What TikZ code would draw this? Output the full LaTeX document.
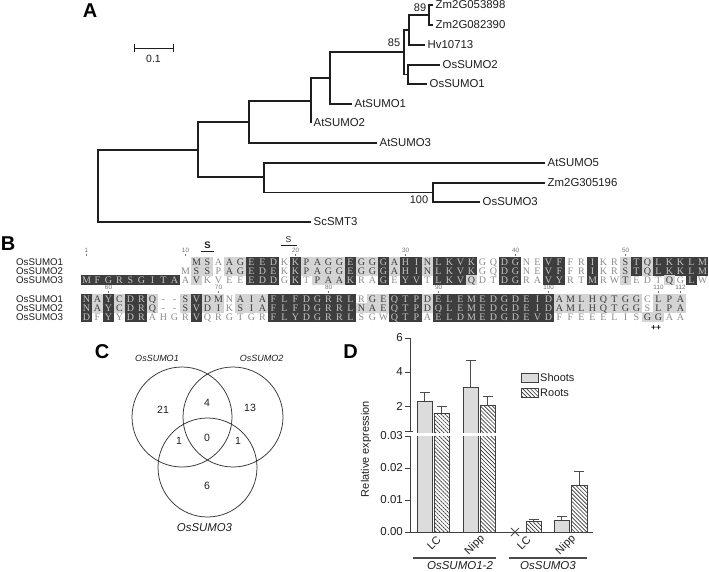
\documentclass[tikz,border=0pt]{standalone}
\usepackage{fontspec}
\setmainfont{Liberation Sans}
\newfontfamily\alfont{Liberation Serif}
\usetikzlibrary{patterns.meta}
\definecolor{aldark}{HTML}{3E3E3E}
\definecolor{allight}{HTML}{D4D4D4}
\definecolor{aldtext}{HTML}{C4C4C4}
\definecolor{alltext}{HTML}{3A3A3A}
\definecolor{alntext}{HTML}{8C8C8C}
\definecolor{ink}{HTML}{1E1E1E}
\definecolor{shootfill}{HTML}{DCDCDC}
\makeatletter
\newcount\alcol
\def\AlRow#1#2#3#4{\def\alrowid{#1}\alcol=1\relax\def\aly{#2}\AlNext#3\relax#4\relax}
\def\AlNext#1#2\relax#3#4\relax{%
  \AlCell{#1}{#3}%
  \advance\alcol by 1\relax
  \def\alrest{#2}%
  \ifx\alrest\@empty\let\alnext\relax\else\def\alnext{\AlNext#2\relax#4\relax}\fi
  \alnext}
\def\AlCell#1#2{%
  \pgfmathsetmacro\alxc{86.5+(\the\alcol-1)*11}%
  \if#2d\fill[aldark] (\alxc-5.6,\aly-4.6) rectangle (\alxc+5.6,\aly+4.6);
    \node[alchar,text=aldtext] (\alrowid-\the\alcol) at (\alxc,\aly) {#1};\fi
  \if#2l\fill[allight] (\alxc-5.6,\aly-4.6) rectangle (\alxc+5.6,\aly+4.6);
    \node[alchar,text=alltext] (\alrowid-\the\alcol) at (\alxc,\aly) {#1};\fi
  \if#2n\node[alchar,text=alntext] (\alrowid-\the\alcol) at (\alxc,\aly) {#1};\fi}
\makeatother
\begin{document}
\begin{tikzpicture}[x=1pt,y=-1pt,
  br/.style={line width=1.1pt, draw=ink},
  tl/.style={anchor=west, inner sep=2.5pt, text=ink, font=\fontsize{11.4}{13}\selectfont},
  bs/.style={inner sep=0pt, text=ink, font=\fontsize{11}{12}\selectfont},
  panel/.style={inner sep=0pt, font=\fontsize{20}{22}\selectfont\bfseries},
  alchar/.style={inner sep=0pt, text height=6.5pt, text depth=0pt, font=\alfont\fontsize{10}{10}\selectfont},
  alname/.style={anchor=west, inner sep=0pt, text=ink, font=\fontsize{9.7}{10}\selectfont},
  alnum/.style={inner sep=0pt, text=black!55, font=\fontsize{6.3}{7}\selectfont},
  alnumtick/.style={line width=0.4pt, draw=black!55},
  venn/.style={line width=0.75pt, draw=black!80},
  vnum/.style={inner sep=0pt, text=ink, font=\fontsize{10.5}{12}\selectfont},
  vlab/.style={inner sep=0pt, text=ink, font=\fontsize{9}{10}\selectfont\itshape},
  ax/.style={line width=1pt, draw=black!75},
  ytl/.style={inner sep=0pt, anchor=east, text=ink, font=\fontsize{11.5}{13}\selectfont},
  barline/.style={line width=0.9pt, draw=black!75},
  shootbar/.style={barline, fill=shootfill},
  rootbar/.style={barline, preaction={fill=white}, pattern={Lines[angle=-45,distance=2.8pt,line width=0.65pt]}, pattern color=black!80},
  err/.style={line width=1pt, draw=black!70},
  xl/.style={inner sep=0pt, anchor=east, rotate=45, text=ink, font=\fontsize{11}{13}\selectfont},
  grp/.style={inner sep=0pt, text=ink, font=\fontsize{11.5}{13}\selectfont\itshape},
  leg/.style={anchor=west, inner sep=0pt, text=ink, font=\fontsize{11}{13}\selectfont},
]
\useasboundingbox (0,0) rectangle (709,571);
\fill[white] (0,0) rectangle (709,571);

% ---------- panel letters
\node[panel] (pA) at (90,11) {A};
\node[panel] (pB) at (8,244) {B};
\node[panel] (pC) at (102,352) {C};
\node[panel] (pD) at (350.5,352) {D};

% ---------- panel A : tree
\coordinate (sb1) at (134,48); \coordinate (sb2) at (173,48);
\draw[br,line width=1pt] (sb1) -- (sb2) (sb1) ++(0,-4) -- ++(0,8) (sb2) ++(0,-4) -- ++(0,8);
\node[bs,font=\fontsize{10.5}{12}\selectfont] (sbl) at (153.5,59) {0.1};

\coordinate (R) at (98,186);
\coordinate (N1) at (198,150);
\coordinate (N2) at (249,122);
\coordinate (N3) at (311,101);
\coordinate (N4) at (330,78);
\coordinate (N5) at (404,52);
\coordinate (N6) at (409,30);
\coordinate (N7) at (429,15);
\coordinate (N8) at (408,74.5);
\coordinate (N9) at (264,177);
\coordinate (N10) at (433,192.5);

\coordinate (tZm1) at (433,5);
\coordinate (tZm2) at (433,25);
\coordinate (tHv) at (425,45);
\coordinate (tOs2) at (440,65);
\coordinate (tOs1) at (427,84);
\coordinate (tAt1) at (352,104);
\coordinate (tAt2) at (311,123);
\coordinate (tAt3) at (377,143);
\coordinate (tAt5) at (545,163);
\coordinate (tZm3) at (545,183);
\coordinate (tOs3) at (480,202);
\coordinate (tSc) at (311,222);

\draw[br] (N1) -| (R) |- (tSc);
\draw[br] (N2) -| (N1) |- (N9);
\draw[br] (N3) -| (N2) |- (tAt3);
\draw[br] (N4) -| (N3) |- (tAt2);
\draw[br] (N5) -| (N4) |- (tAt1);
\draw[br] (N6) -| (N5) |- (N8);
\draw[br] (N7) -| (N6) |- (tHv);
\draw[br] (tZm1) -| (N7) |- (tZm2);
\draw[br] (tOs2) -| (N8) |- (tOs1);
\draw[br] (tAt5) -| (N9) |- (N10);
\draw[br] (tZm3) -| (N10) |- (tOs3);

\node[tl] (lZm1) at (tZm1) {Zm2G053898};
\node[tl] (lZm2) at (tZm2) {Zm2G082390};
\node[tl] (lHv) at (tHv) {Hv10713};
\node[tl] (lOs2) at (tOs2) {OsSUMO2};
\node[tl] (lOs1) at (tOs1) {OsSUMO1};
\node[tl] (lAt1) at (tAt1) {AtSUMO1};
\node[tl] (lAt2) at (tAt2) {AtSUMO2};
\node[tl] (lAt3) at (tAt3) {AtSUMO3};
\node[tl] (lAt5) at (tAt5) {AtSUMO5};
\node[tl] (lZm3) at (tZm3) {Zm2G305196};
\node[tl] (lOs3) at (tOs3) {OsSUMO3};
\node[tl] (lSc) at (tSc) {ScSMT3};

\node[bs] (b89) at (420,8) {89};
\node[bs] (b85) at (394,43) {85};
\node[bs] (b100) at (419,200) {100};

% ---------- panel B : alignment
\node[alname] (n11) at (16,262) {OsSUMO1};
\node[alname] (n12) at (16,271) {OsSUMO2};
\node[alname] (n13) at (16,280) {OsSUMO3};
\node[alname] (n21) at (16,299) {OsSUMO1};
\node[alname] (n22) at (16,308) {OsSUMO2};
\node[alname] (n23) at (16,317) {OsSUMO3};

\foreach \c/\t in {1/1,10/10,20/20,30/30,40/40,50/50}{
  \node[alnum] (m\t) at ({86.5+(\c-1)*11},250.5) {\t};
  \draw[alnumtick] (m\t.south) ++(0,1) -- ++(0,2.5);
}
\foreach \c/\t in {3/60,13/70,23/80,33/90,43/100,53/110,55/112}{
  \node[alnum] (m\t) at ({86.5+(\c-1)*11},287.5) {\t};
  \draw[alnumtick] (m\t.south) ++(0,1) -- ++(0,2.5);
}

\node[inner sep=0pt, text=ink, font=\fontsize{9.5}{10}\selectfont\bfseries] (s1) at (207.5,245) {S};
\draw[line width=0.8pt, ink] (s1.south) ++(-6.5,2.5) -- ++(13,0);
\node[inner sep=0pt, text=ink, font=\fontsize{8.5}{9}\selectfont] (s2) at (288.5,240) {S};
\draw[line width=0.7pt, ink] (s2.south) ++(-8,2.5) -- ++(16,0);
\node[inner sep=0pt, text=ink, font=\fontsize{8.5}{9}\selectfont\bfseries] (pp) at (656,327.5) {++};

\AlRow{a1}{262}{.......... MSAAGEEDKK PAGGEGGGAH INLKVKGQDG NEVFFRIKRS TQLKKLM}{.......... llnllddd nd lllldlldld dlddddnndd nnddnndnnl dlddddd}
\AlRow{a2}{271}{......... MSSPAGEDEKK PAGGEGGGAH INLKVKGQDG NEVFFRIKRS TQLKKLM}{......... nllnlldddnd lllldlldld dlddddnndd nnddnndnnl dlddddd}
\AlRow{a3}{280}{MFGRSGITAA VKVEEEDDGK TPAAKRAGEY VTLKVQDTDG RAVYRTMRWT EDTQGLW}{dddddddddn lnnnndddnd nllldnndnd dndddlnndd nnddnndnnl nnnlndn}
\AlRow{b1}{299}{NAYCDRQ--S VDMNAIAFLF DGRRLRGEQT PDELEMEDGD EIDAMLHQTG GCLPA}{dldlddlnnl dllnlllddd dddddnlldd dldddddddd dddlllllll lnlll}
\AlRow{b2}{308}{NAYCDRQ--S VDIKSIAFLF DGRRLNAEQT PDQLEMEDGD EIDAMLHQTG GSLPA}{dldlddlnnl dllnlllddd dddddllldd dldddddddd dddlllllll lnlll}
\AlRow{b3}{317}{DFYYDRAHGR VQRGTGRFLY DGRRLSGWQT PAELDMEDGD EVDFFEEELI SGGAA}{dndnddnnnn dnnnnnnddd dddddnnndd dndddddddd dddnnnnnnn nllnn}

% ---------- panel C : Venn
\coordinate (v1) at (182,417);
\coordinate (v2) at (233,417);
\coordinate (v3) at (207.5,467.5);
\draw[venn] (v1) circle[radius=50pt];
\draw[venn] (v2) circle[radius=50pt];
\draw[venn] (v3) circle[radius=49.5pt];
\node[vlab] (vl1) at (157,358) {OsSUMO1};
\node[vlab] (vl2) at (261.5,358) {OsSUMO2};
\node[vlab,font=\fontsize{11.4}{13}\selectfont\itshape] (vl3) at (204.5,528) {OsSUMO3};
\node[vnum] (c21) at (163,410) {21};
\node[vnum] (c4) at (207,403) {4};
\node[vnum] (c13) at (250,408) {13};
\node[vnum] (c1a) at (179,441) {1};
\node[vnum] (c0) at (207,438) {0};
\node[vnum] (c1b) at (238,441) {1};
\node[vnum] (c6) at (207,486) {6};

% ---------- panel D : bars
\draw[shootbar] (417,532) rectangle (432,401);
\draw[rootbar] (434,532) rectangle (449,413);
\draw[shootbar] (463,532) rectangle (478,387);
\draw[rootbar] (480,532) rectangle (495,405);
\draw[rootbar] (526,532) rectangle (541,521);
\draw[shootbar] (554,532) rectangle (569,520);
\draw[rootbar] (571,532) rectangle (587,485);

\draw[err] (424.5,401) -- (424.5,392) (419.5,392) -- (429.5,392);
\draw[err] (441.5,413) -- (441.5,406) (436.5,406) -- (446.5,406);
\draw[err] (470.5,387) -- (470.5,360) (465.5,360) -- (475.5,360);
\draw[err] (487.5,405) -- (487.5,396) (482.5,396) -- (492.5,396);
\draw[err] (533.5,521) -- (533.5,519) (528.5,519) -- (538.5,519);
\draw[err] (561.5,520) -- (561.5,516) (556.5,516) -- (566.5,516);
\draw[err] (579,485) -- (579,471) (574,471) -- (584,471);
\draw[err,line width=0.9pt] (511,528) -- (519,536) (511,536) -- (519,528);

\fill[white] (404,432.5) rectangle (499,435.5);

\draw[ax] (410,338) -- (410,431.5);
\draw[ax] (405,431.5) -- (413,431.5);
\foreach \yy/\t in {338/6,372/4,406/2}{
  \draw[ax] (405,\yy) -- (410,\yy);
  \node[ytl] (yt\t) at (403,\yy) {\t};
}
\draw[ax] (410,436) -- (410,532) -- (593,532);
\foreach \yy/\t in {436/0.03,468/0.02,500/0.01,532/0.00}{
  \draw[ax] (405,\yy) -- (410,\yy);
  \node[ytl] at (403,\yy) {\t};
}
\node[inner sep=0pt, rotate=90, text=ink, font=\fontsize{11}{13}\selectfont] (ytitle) at (366,449) {Relative expression};

\node[xl] (x1) at (439,538) {LC};
\node[xl] (x2) at (483,537) {Nipp};
\node[xl] (x3) at (529,538) {LC};
\node[xl] (x4) at (574,537) {Nipp};

\draw[line width=1.2pt, black!70] (413,558) -- (496,558);
\draw[line width=1.2pt, black!70] (509,558) -- (587,558);
\node[grp] (g1) at (460,566) {OsSUMO1-2};
\node[grp] (g2) at (548,566) {OsSUMO3};

\draw[shootbar] (521,373) rectangle (538,382);
\node[leg] (lg1) at (540,378) {Shoots};
\draw[rootbar] (521,388) rectangle (538,397);
\node[leg] (lg2) at (540,393) {Roots};
\end{tikzpicture}
\end{document}
